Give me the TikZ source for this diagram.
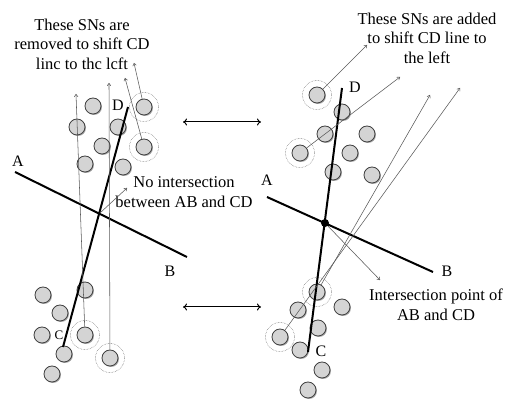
\documentclass[tikz,border=0pt]{standalone}
\usepackage{fontspec}
\setmainfont{Liberation Serif}
\usetikzlibrary{shadows,arrows.meta}
\begin{document}
\begin{tikzpicture}[x=1pt,y=-1pt,
  sn/.style={circle,minimum size=16pt,inner sep=0pt,fill=black!17,draw=black!75,line width=0.8pt,
     drop shadow={shadow xshift=1pt,shadow yshift=-1pt,opacity=0.35,fill=black}},
  ring/.style={circle,minimum size=29pt,inner sep=0pt,draw=black!60,densely dotted,line width=0.5pt},
  thinarrow/.style={draw=black!65,line width=0.55pt,-{To[length=3pt,width=4pt]}},
  dbl/.style={draw=black,line width=1pt,{To[length=4pt,width=7pt]}-{To[length=4pt,width=7pt]}},
  mainline/.style={draw=black,line width=2pt},
  lbl/.style={font=\fontsize{16}{18}\selectfont,inner sep=0pt},
  txt/.style={font=\fontsize{16.5}{19.5}\selectfont,align=center,inner sep=0pt}]
\useasboundingbox (0,0) rectangle (507,403);

% ---------- left panel ----------
\node[txt] (ltxt) at (82,44) {These SNs are\\removed to shift CD\\linc to thc lcft};
\node[ring] (lr1r) at (144,107) {};
\node[ring] (lr2r) at (144,147) {};
\node[ring] (lr3r) at (85,335) {};
\node[ring] (lr4r) at (110,358) {};
\node[sn] (l1) at (93,106) {};
\node[sn] (l2) at (77,127) {};
\node[sn] (l3) at (118,127) {};
\node[sn] (l4) at (102,146) {};
\node[sn] (l5) at (85,164) {};
\node[sn] (l6) at (123,167) {};
\node[sn] (lr1) at (144,107) {};
\node[sn] (lr2) at (144,147) {};
\node[sn] (l9) at (85,290) {};
\node[sn] (l10) at (43,295) {};
\node[sn] (l11) at (60,313) {};
\node[sn] (l12) at (42,335) {};
\node[sn] (lr3) at (85,335) {};
\node[sn] (l14) at (64,354) {};
\node[sn] (lr4) at (110,358) {};
\node[sn] (l16) at (52,374) {};

\coordinate (lA) at (15,172);
\coordinate (lB) at (187,257);
\coordinate (lC) at (63,347);
\coordinate (lD) at (128,107);
\draw[mainline] (lA) -- (lB);
\draw[mainline] (lC) -- (lD);
\node[lbl] (labA) at (18,161) {A};
\node[lbl] (labB) at (170,271) {B};
\node[lbl,font=\fontsize{13}{15}\selectfont] (labC) at (59,335) {C};
\node[lbl] (labD) at (118,105) {D};

\coordinate (t1) at (76,94);
\coordinate (t2) at (109,83);
\coordinate (t3) at (125,78);
\coordinate (t4) at (134,63);
\draw[thinarrow] (lr3) -- (t1);
\draw[thinarrow] (lr4) -- (t2);
\draw[thinarrow] (lr2) -- (t3);
\draw[thinarrow] (lr1) -- (t4);

\node[txt] (ltxt2) at (184,192) {No intersection\\between AB and CD};
\coordinate (nis) at (100,213);
\coordinate (nie) at (127,188);
\draw[thinarrow] (nis) -- (nie);

% ---------- middle arrows ----------
\coordinate (m1a) at (183,122);
\coordinate (m1b) at (261,122);
\coordinate (m2a) at (183,307);
\coordinate (m2b) at (261,307);
\draw[dbl] (m1a) -- (m1b);
\draw[dbl] (m2a) -- (m2b);

% ---------- right panel ----------
\node[txt] (rtxt) at (427,38) {These SNs are added\\to shift CD line to\\the left};
\node[ring] (rr1r) at (317,95) {};
\node[ring] (rr2r) at (300,153) {};
\node[ring] (rr3r) at (317,292) {};
\node[ring] (rr4r) at (280,337) {};
\node[sn] (rr1) at (317,95) {};
\node[sn] (r2) at (342,112) {};
\node[sn] (r3) at (325,134) {};
\node[sn] (r4) at (367,134) {};
\node[sn] (rr2) at (300,153) {};
\node[sn] (r6) at (350,153) {};
\node[sn] (r7) at (333,172) {};
\node[sn] (r8) at (372,175) {};
\node[sn] (rr3) at (317,292) {};
\node[sn] (r10) at (342,307) {};
\node[sn] (r11) at (298,310) {};
\node[sn] (r12) at (318,328) {};
\node[sn] (rr4) at (280,337) {};
\node[sn] (r14) at (300,350) {};
\node[sn] (r15) at (322,370) {};
\node[sn] (r16) at (308,390) {};

\coordinate (rA) at (267,197);
\coordinate (rB) at (433,272);
\coordinate (rC) at (308,352);
\coordinate (rD) at (342,88);
\draw[mainline] (rA) -- (rB);
\draw[mainline] (rC) -- (rD);
\node[lbl] (rlabA) at (267,180) {A};
\node[lbl] (rlabB) at (447,271) {B};
\node[lbl] (rlabC) at (321,351) {C};
\node[lbl] (rlabD) at (355,87) {D};
\node[circle,fill=black,minimum size=8pt,inner sep=0pt] (dot) at (325,223) {};

\coordinate (u1) at (367,45);
\coordinate (u2) at (400,77);
\coordinate (u3) at (430,95);
\coordinate (u4) at (460,88);
\draw[thinarrow] (rr1) -- (u1);
\draw[thinarrow] (rr2) -- (u2);
\draw[thinarrow] (rr3) -- (u3);
\draw[thinarrow] (rr4) -- (u4);

\coordinate (ie) at (380,280);
\draw[thinarrow] (dot) -- (ie);
\node[txt] (rtxt2) at (436,305) {Intersection point of\\AB and CD};
\end{tikzpicture}
\end{document}
